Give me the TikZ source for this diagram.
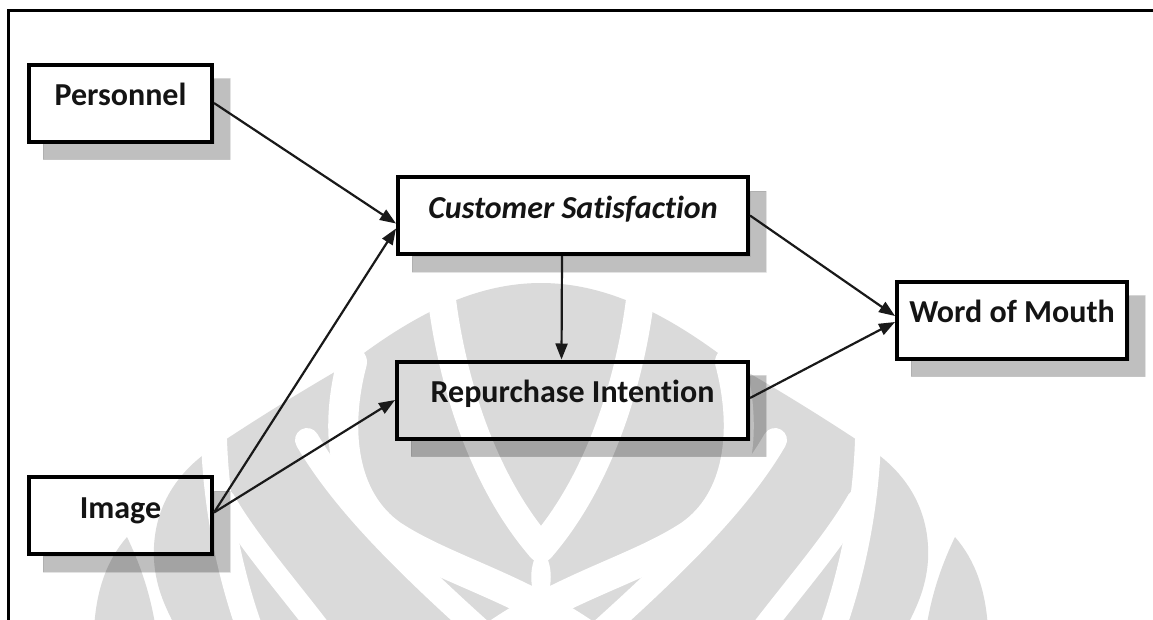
\documentclass[tikz,border=0pt]{standalone}
\usepackage{fontspec}
\setmainfont{Carlito}[Ligatures=NoCommon]
\usetikzlibrary{arrows.meta}
\definecolor{emblemgray}{HTML}{DADADA}
\begin{document}
\begin{tikzpicture}[x=1pt,y=-1pt,
  box/.style={draw=black,line width=4pt,minimum width=#1,minimum height=77pt,inner sep=0pt},
  lab/.style={font=\fontsize{32}{38}\selectfont\bfseries,text=black!92,anchor=base,yshift=-2.5pt},
  link/.style={line width=2.2pt,draw=black!90,-{Triangle[length=16pt,width=12pt]}},
  band/.style={draw=white,line cap=round,line width=#1},
  frame/.style={line width=3pt,line cap=rect}]
\useasboundingbox (0,0) rectangle (1153,619);
\fill[white] (0,0) rectangle (1153,619);
% emblem in the background, symmetric about x = 541
\begin{scope}
  \clip (0,0) rectangle (1153,619);
  \fill[emblemgray] (541,283)
    .. controls (602,283) and (662,310) .. (730,362)
    .. controls (770,385) and (820,415) .. (872,450)
    .. controls (915,480) and (930,520) .. (928,560)
    .. controls (926,590) and (915,610) .. (905,630)
    -- (177,630)
    .. controls (167,610) and (156,590) .. (154,560)
    .. controls (152,520) and (167,480) .. (210,450)
    .. controls (262,415) and (312,385) .. (352,362)
    .. controls (420,310) and (480,283) .. (541,283) -- cycle;
  \fill[emblemgray] (955,537) .. controls (975,560) and (986,590) .. (988,630)
    -- (926,630) .. controls (932,590) and (944,560) .. (955,537) -- cycle;
  \fill[emblemgray] (127,537) .. controls (107,560) and (96,590) .. (94,630)
    -- (156,630) .. controls (150,590) and (138,560) .. (127,537) -- cycle;
  % white bands cut through the emblem
  \draw[band=26pt] (868,440) .. controls (866,500) and (855,565) .. (832,630);
  \draw[band=26pt] (214,440) .. controls (216,500) and (227,565) .. (250,630);
  \draw[band=24pt] (600,632) .. controls (680,560) and (740,500) .. (775,440);
  \draw[band=24pt] (482,632) .. controls (402,560) and (342,500) .. (307,440);
  \draw[band=22pt] (760,632) .. controls (800,580) and (835,540) .. (858,500);
  \draw[band=22pt] (322,632) .. controls (282,580) and (247,540) .. (224,500);
  \draw[band=30pt] (730,362) .. controls (748,430) and (740,500) .. (690,535)
    .. controls (640,568) and (570,585) .. (500,632);
  \draw[band=30pt] (352,362) .. controls (334,430) and (342,500) .. (392,535)
    .. controls (442,568) and (512,585) .. (582,632);
  \draw[band=28pt] (640,300) .. controls (630,380) and (600,480) .. (541,548);
  \draw[band=28pt] (442,300) .. controls (452,380) and (482,480) .. (541,548);
  \fill[white] (541,548) .. controls (554,562) and (554,592) .. (541,606)
    .. controls (528,592) and (528,562) .. (541,548) -- cycle;
\end{scope}
% frame
\draw[frame] (8,619) -- (8,10) -- (1153,10);
% boxes
\node[box=183pt] (pers) at (120.5,103) {};
\node[box=350pt] (cs) at (573,215.5) {};
\node[box=351pt] (ri) at (572.5,400) {};
\node[box=230pt] (wom) at (1012,320) {};
\node[box=183pt] (img) at (120.5,515.5) {};
% drop shadows: the part of each offset copy that the box does not cover
\foreach \b in {pers,cs,ri,wom,img}{
  \filldraw[fill=black,fill opacity=0.25,draw=black,draw opacity=0.08,line width=1pt]
    ([shift={(0,16)}]\b.north east) -- ([shift={(16,16)}]\b.north east)
    -- ([shift={(16,16)}]\b.south east) -- ([shift={(16,16)}]\b.south west)
    -- ([shift={(16,0)}]\b.south west) -- (\b.south east) -- cycle;
}
\foreach \b/\w in {pers/183pt,cs/350pt,ri/351pt,wom/230pt,img/183pt}{
  \node[box=\w] at (\b.center) {};
}
% labels
\node[lab] at (pers.center) {Personnel};
\node[lab] at (cs.center) {\itshape Customer Satisfaction};
\node[lab] at (ri.center) {Repurchase Intention};
\node[lab] at (wom.center) {Word of Mouth};
\node[lab] at (img.center) {Image};
% connectors
\draw[link] (pers.east) -- ([yshift=-8pt]cs.west);
\draw[link] ([yshift=3pt]img.east) -- ([yshift=-13pt]cs.west);
\draw[link] ([yshift=3pt]img.east) -- (ri.west);
\draw[link] ([xshift=-11pt]cs.south) -- ([xshift=-11pt]ri.north);
\draw[link] (cs.east) -- ([yshift=4pt]wom.west);
\draw[link] ([yshift=2pt]ri.east) -- ([yshift=-2pt]wom.west);
\end{tikzpicture}
\end{document}
